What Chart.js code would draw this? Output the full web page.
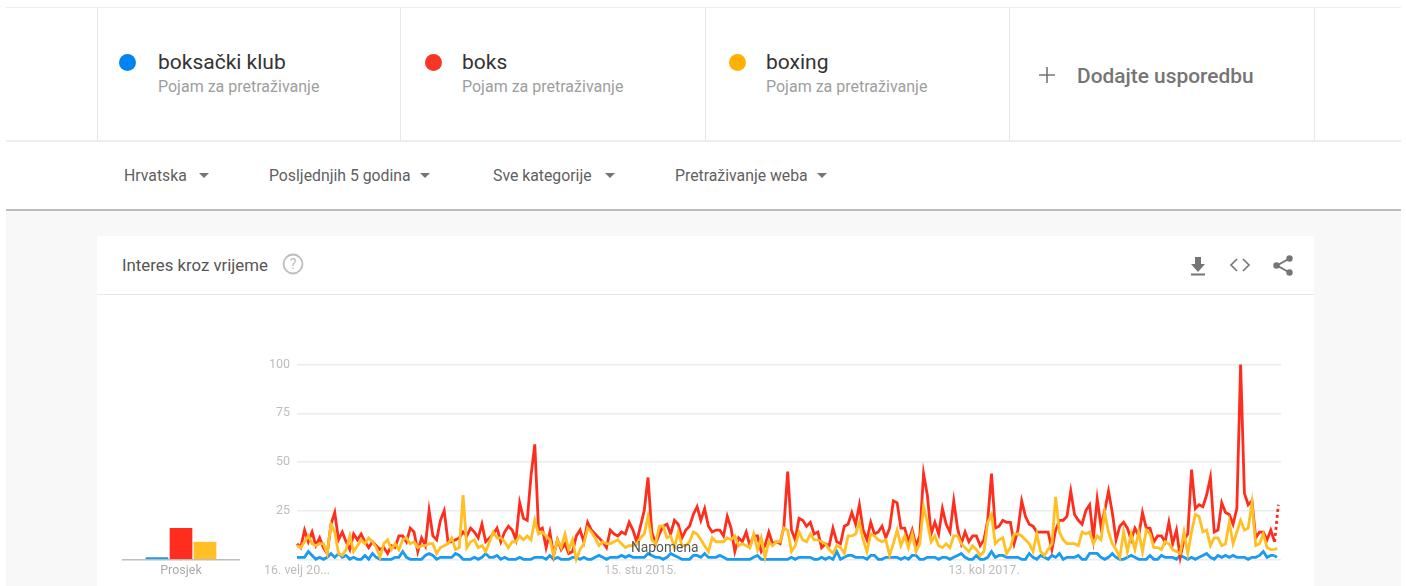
<!DOCTYPE html>
<html lang="hr">
<head>
<meta charset="utf-8">
<title>Interes kroz vrijeme</title>
<script src="https://cdn.jsdelivr.net/npm/chart.js@4"></script>
<style>
  html, body { margin: 0; padding: 0; background: #fff; overflow: hidden; }
  body { width: 1406px; height: 586px; position: relative; font-family: Roboto, sans-serif; filter: blur(0.4px); }
  .abs { position: absolute; }
  .txt { position: absolute; white-space: nowrap; line-height: 1; }
  .vline { position: absolute; top: 7px; height: 134px; width: 1px; background: #e8e8e8; }
  .dot { position: absolute; width: 17px; height: 17px; border-radius: 50%; top: 54px; }
  .term { font-size: 21px; color: #333; top: 51.5px; }
  .sub { font-size: 16px; color: #9e9e9e; top: 79px; }
  .filter { font-size: 15.8px; color: #5f5f5f; top: 167.5px; }
  .arrow { position: absolute; top: 172.5px; width: 0; height: 0; border-left: 5.5px solid transparent; border-right: 5.5px solid transparent; border-top: 5.5px solid #757575; }
  canvas { position: absolute; }
</style>
</head>
<body>
  <div class="abs" style="left:6px;top:7px;width:1395px;height:1px;background:#eee"></div>
  <div class="abs" style="left:6px;top:140px;width:1395px;height:2px;background:#eee"></div>
  <div class="vline" style="left:97px"></div>
  <div class="vline" style="left:400px"></div>
  <div class="vline" style="left:705px"></div>
  <div class="vline" style="left:1009px"></div>
  <div class="vline" style="left:1314px"></div>

  <div class="dot" style="left:119px;background:#0084f4"></div>
  <div class="txt term" style="left:158px">boksački klub</div>
  <div class="txt sub" style="left:158px">Pojam za pretraživanje</div>
  <div class="dot" style="left:425px;background:#f73625"></div>
  <div class="txt term" style="left:462px">boks</div>
  <div class="txt sub" style="left:462px">Pojam za pretraživanje</div>
  <div class="dot" style="left:729px;background:#ffb000"></div>
  <div class="txt term" style="left:766px">boxing</div>
  <div class="txt sub" style="left:766px">Pojam za pretraživanje</div>
  <svg class="abs" style="left:1039px;top:67px" width="16" height="16"><path d="M8 0v16M0 8h16" stroke="#757575" stroke-width="1.6"/></svg>
  <div class="txt" style="left:1077px;top:65.5px;font-size:20.9px;font-weight:500;color:#757575">Dodajte usporedbu</div>

  <div class="txt filter" style="left:124px">Hrvatska</div>
  <div class="arrow" style="left:199px"></div>
  <div class="txt filter" style="left:269px">Posljednjih 5 godina</div>
  <div class="arrow" style="left:420px"></div>
  <div class="txt filter" style="left:493px">Sve kategorije</div>
  <div class="arrow" style="left:605px"></div>
  <div class="txt filter" style="left:675px">Pretraživanje weba</div>
  <div class="arrow" style="left:817px"></div>

  <div class="abs" style="left:6px;top:209px;width:1395px;height:2px;background:#bdbdbd"></div>
  <div class="abs" style="left:6px;top:211px;width:1395px;height:375px;background:#f8f8f8"></div>
  <div class="abs" style="left:97px;top:236px;width:1217px;height:350px;background:#fff"></div>
  <div class="abs" style="left:97px;top:294px;width:1217px;height:1px;background:#e8e8e8"></div>

  <div class="txt" style="left:122px;top:256.6px;font-size:16.8px;color:#555">Interes kroz vrijeme</div>
  <svg class="abs" style="left:282px;top:253px" width="22" height="22">
    <circle cx="11" cy="11" r="9.5" fill="none" stroke="#bdbdbd" stroke-width="1.8"/>
    <text x="11" y="16" text-anchor="middle" font-family="Roboto" font-size="14" fill="#bdbdbd">?</text>
  </svg>
  <svg class="abs" style="left:1188px;top:255px" width="20" height="22"><path d="M7 2h6v7h4l-7 8-7-8h4zM3 18.5h14v2H3z" fill="#757575"/></svg>
  <svg class="abs" style="left:1229px;top:256px" width="22" height="18"><path d="M8 3L2 9l6 6M14 3l6 6-6 6" fill="none" stroke="#757575" stroke-width="1.6"/></svg>
  <svg class="abs" style="left:1272px;top:254px" width="22" height="23">
    <path d="M17.5 4.5L5 11.5l12.5 7" fill="none" stroke="#757575" stroke-width="2"/>
    <circle cx="17.5" cy="4.5" r="3.2" fill="#757575"/><circle cx="4.5" cy="11.5" r="3.2" fill="#757575"/><circle cx="17.5" cy="18.5" r="3.2" fill="#757575"/>
  </svg>

  <canvas id="prosjek" style="left:122px;top:350px;width:118px;height:236px"></canvas>
  <canvas id="trend" style="left:240px;top:350px;width:1045px;height:236px"></canvas>
  <div class="txt" style="left:631px;top:541px;font-size:13.8px;color:#555">Napomena</div>

<script>
// Vrijednosti ocitane sa slike, tjedno, 261 tocka
const boks = [
  8,6,15,9,14,7,11,6,3,18,
  24,10,14,9,5,13,10,13,9,6,
  9,7,5,6,3,7,6,12,12,9,
  16,14,4,11,7,25,12,10,20,25,
  9,9,10,11,14,12,16,14,11,18,
  9,11,13,16,9,14,17,15,10,29,
  21,20,43,59,15,16,6,14,2,10,
  5,8,3,4,12,15,9,19,15,13,
  11,9,6,15,13,12,14,13,19,15,
  9,17,25,42,14,8,13,17,18,13,
  20,18,11,15,17,23,27,20,26,17,
  14,15,15,12,22,16,4,11,9,14,
  7,12,12,4,7,14,8,9,8,17,
  45,15,10,21,20,17,19,13,14,6,
  8,7,16,9,8,17,18,24,18,28,
  15,10,19,13,14,17,11,16,30,29,
  16,16,9,15,7,12,44,33,13,19,
  13,26,18,14,30,16,8,14,9,12,
  12,7,10,20,44,16,17,20,19,19,
  8,15,30,22,18,17,14,14,14,14,
  5,15,20,20,22,35,23,20,18,25,
  28,11,31,17,25,35,24,10,17,19,
  16,10,16,12,24,16,16,9,12,12,
  9,19,8,15,1,10,13,46,26,28,
  27,33,42,14,15,29,24,23,18,26,
  100,34,28,30,11,14,14,10,15,9,28
];
const boxing = [
  7,6,9,12,8,7,8,8,3,18,
  14,3,2,5,12,4,7,10,8,11,
  9,6,1,8,10,5,8,5,10,11,
  8,9,6,7,7,8,8,3,6,7,
  8,11,5,6,33,6,9,10,6,7,
  4,9,14,11,11,9,6,9,9,12,
  10,12,10,20,13,14,12,10,2,10,
  6,13,5,10,0,5,8,16,14,11,
  7,9,8,8,9,10,8,6,7,7,
  8,11,13,22,10,8,17,17,11,12,
  6,14,7,7,9,14,13,10,7,4,
  11,9,9,9,11,10,12,7,8,7,
  6,13,5,11,1,9,7,9,9,16,
  15,4,7,14,10,9,13,10,10,9,
  8,5,3,7,6,3,12,12,13,19,
  10,4,13,12,10,9,10,2,8,15,
  7,12,6,13,4,8,27,19,9,12,
  7,6,8,6,12,12,8,6,4,7,
  5,2,4,19,23,8,10,11,3,6,
  13,13,12,10,8,4,13,4,2,5,
  8,32,14,10,8,8,8,7,14,13,
  14,8,12,10,24,14,8,5,1,14,
  4,13,5,14,4,15,13,6,6,5,
  9,8,5,4,3,14,3,14,23,22,
  14,15,7,11,11,7,8,19,8,14,
  20,15,16,29,7,8,13,6,5,5,6
];
const boksackiKlub = [
  1,1,1,4,2,0,1,0,1,3,
  1,3,1,2,0,1,0,0,2,0,
  3,1,0,0,0,0,1,1,4,1,
  0,0,0,0,2,3,2,0,1,1,
  1,1,3,2,0,0,0,1,0,1,
  3,1,1,2,0,1,0,0,0,1,
  0,0,0,1,1,1,0,2,0,1,
  0,0,0,1,1,0,1,0,0,1,
  2,1,0,1,1,1,2,1,2,1,
  1,1,1,3,2,1,1,0,1,3,
  2,1,0,0,0,2,2,1,3,1,
  1,1,2,1,0,0,0,0,0,0,
  0,1,2,0,0,0,0,0,0,0,
  0,1,0,1,1,1,1,0,0,1,
  0,1,0,4,0,1,2,2,1,1,
  1,0,2,2,0,0,1,1,1,1,
  0,1,0,2,2,0,0,1,1,1,
  0,1,1,0,1,2,3,1,0,0,
  2,0,0,1,4,1,2,2,1,1,
  1,1,0,0,3,1,0,2,1,0,
  2,1,3,0,1,1,1,2,0,0,
  3,3,3,1,0,1,3,1,0,0,
  1,2,1,0,0,0,2,0,0,2,
  1,1,1,0,2,1,0,1,0,1,
  2,3,1,0,2,1,2,1,2,1,
  1,1,0,1,1,2,4,1,2,2,0
];
const prosjekVrijednosti = [1, 16, 9];

const tickTjedni = [0, 91, 182];
const tickOznake = ['16. velj 20...', '15. stu 2015.', '13. kol 2017.'];
const yTickovi = [0, 25, 50, 75, 100];

const plava = '#1a9bf0';
const crvena = '#ff2d1e';
const zuta = '#ffbf25';

const sivaOznaka = '#bdbdbd';
const font = { family: 'Roboto', size: 12.5 };

// zadnji tjedan je nepotpun pa je crtkan
function serija(label, vrijednosti, boja, red) {
  return {
    label: label,
    data: vrijednosti.map((v, i) => ({ x: i, y: v })),
    borderColor: boja,
    borderWidth: 2.8,
    pointRadius: 0,
    tension: 0,
    clip: false,
    order: red,
    segment: {
      borderDash: ctx => ctx.p1DataIndex === vrijednosti.length - 1 ? [3, 3] : undefined
    }
  };
}

new Chart(document.getElementById('trend'), {
  type: 'line',
  data: {
    datasets: [
      serija('boksački klub', boksackiKlub, plava, 3),
      serija('boks', boks, crvena, 2),
      serija('boxing', boxing, zuta, 1)
    ]
  },
  options: {
    responsive: false,
    animation: false,
    layout: { padding: { top: 13.5, right: 4, left: 0, bottom: 0 } },
    scales: {
      x: {
        type: 'linear',
        min: 0,
        max: 260.7,
        grid: { display: false, drawTicks: false },
        border: { display: false },
        afterBuildTicks: axis => { axis.ticks = tickTjedni.map(v => ({ value: v })); },
        afterFit: axis => { axis.height = 26.7; },
        ticks: {
          autoSkip: false,
          maxRotation: 0,
          color: sivaOznaka,
          font: font,
          padding: 4,
          callback: v => tickOznake[tickTjedni.indexOf(v)]
        }
      },
      y: {
        min: 0,
        max: 100,
        afterBuildTicks: axis => { axis.ticks = yTickovi.map(v => ({ value: v })); },
        afterFit: axis => { axis.width = 57; },
        grid: { color: '#ececec', lineWidth: 1.4, drawTicks: false },
        border: { display: false },
        ticks: {
          color: sivaOznaka,
          font: font,
          padding: 7,
          callback: v => v === 0 ? '' : v
        }
      }
    },
    plugins: { legend: { display: false }, tooltip: { enabled: false } }
  }
});

new Chart(document.getElementById('prosjek'), {
  type: 'bar',
  data: {
    labels: ['Prosjek'],
    datasets: [
      { label: 'boksački klub', data: [prosjekVrijednosti[0]], backgroundColor: plava },
      { label: 'boks', data: [prosjekVrijednosti[1]], backgroundColor: crvena },
      { label: 'boxing', data: [prosjekVrijednosti[2]], backgroundColor: zuta }
    ]
  },
  options: {
    responsive: false,
    animation: false,
    layout: { padding: { top: 13.5 } },
    datasets: { bar: { barThickness: 24, borderColor: '#fff', borderWidth: { left: 1, right: 1 } } },
    scales: {
      x: {
        grid: { display: false, drawTicks: false },
        border: { color: '#bdbdbd', width: 1.4 },
        afterFit: axis => { axis.height = 26.7; },
        ticks: { color: '#aaaaaa', font: font, padding: 4 }
      },
      y: { display: false, min: 0, max: 100 }
    },
    plugins: { legend: { display: false }, tooltip: { enabled: false } }
  }
});
</script>
</body>
</html>
